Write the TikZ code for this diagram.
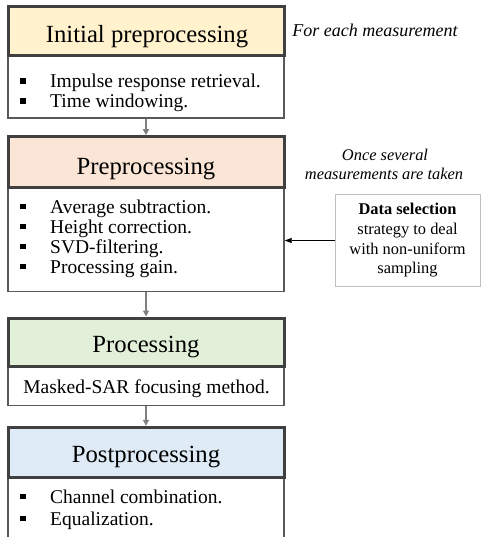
\documentclass[tikz,border=0pt]{standalone}
\usepackage{fontspec}
\setmainfont{Liberation Serif}
\usetikzlibrary{arrows.meta}
\definecolor{hyel}{HTML}{FFF2CC}
\definecolor{hora}{HTML}{FBE5D6}
\definecolor{hgrn}{HTML}{E2F0D9}
\definecolor{hblu}{HTML}{DEEBF7}
\definecolor{hdrline}{HTML}{404040}
\definecolor{bodyline}{HTML}{595959}
\definecolor{arrgray}{HTML}{7F7F7F}
\definecolor{dsline}{HTML}{BFBFBF}
\newcommand{\sqbul}{\makebox[30pt][l]{\rule[4pt]{5.5pt}{5.5pt}}}
\begin{document}
\begin{tikzpicture}[x=1pt,y=-1pt,
  hdr/.style={draw=hdrline, line width=3pt, minimum width=276pt, inner sep=0pt, rectangle},
  bodybox/.style={draw=bodyline, line width=1.4pt, fill=white, minimum width=276pt, inner sep=0pt, rectangle},
  hdrtext/.style={font=\fontsize{24.7}{29}\selectfont, inner sep=0pt, anchor=base},
  li/.style={font=\fontsize{19.5}{20}\selectfont, inner sep=0pt, anchor=base west},
  ctext/.style={font=\fontsize{19.5}{20}\selectfont, inner sep=0pt, anchor=base},
  note/.style={inner sep=0pt, anchor=base},
  databox/.style={draw=dsline, line width=1pt, fill=white, minimum width=145pt, minimum height=91pt, inner sep=0pt, align=center, font=\fontsize{16.4}{19.7}\selectfont},
  garrow/.style={draw=arrgray, line width=1.4pt, -{Triangle[length=6pt,width=6pt]}},
  barrow/.style={draw=black, line width=0.8pt, -{Triangle[length=7pt,width=5pt]}}
]
\clip (0,0) rectangle (481,537);
\fill[white] (0,0) rectangle (481,537);

% bodies
\node[bodybox, minimum height=62pt] (b1) at (146,86.85) {};
\node[bodybox, minimum height=103.8pt] (b2) at (146,239.6) {};
\node[bodybox, minimum height=39.7pt] (b3) at (146,385.85) {};
\node[bodybox, minimum height=90pt] (b4) at (146,522.3) {};

% headers
\node[hdr, fill=hyel, minimum height=49pt] (h1) at (146,31.1) {};
\node[hdr, fill=hora, minimum height=51pt] (h2) at (146,162.2) {};
\node[hdr, fill=hgrn, minimum height=48pt] (h3) at (146,342) {};
\node[hdr, fill=hblu, minimum height=50pt] (h4) at (146,452.3) {};

% header texts
\node[hdrtext] (t1) at (147,43) {Initial preprocessing};
\node[hdrtext] (t2) at (146,175) {Preprocessing};
\node[hdrtext] (t3) at (146,352) {Processing};
\node[hdrtext] (t4) at (146,462) {Postprocessing};

% list texts
\node[li] (l11) at (20,88) {\sqbul Impulse response retrieval.};
\node[li] (l12) at (20,108) {\sqbul Time windowing.};
\node[li] (l21) at (20,213) {\sqbul Average subtraction.};
\node[li] (l22) at (20,233) {\sqbul Height correction.};
\node[li] (l23) at (20,253) {\sqbul SVD-filtering.};
\node[li] (l24) at (20,273) {\sqbul Processing gain.};
\node[ctext] (l31) at (146.5,393) {Masked-SAR focusing method.};
\node[li] (l41) at (20,503) {\sqbul Channel combination.};
\node[li] (l42) at (20,525) {\sqbul Equalization.};

% notes
\node[note, font=\fontsize{18}{21}\selectfont\itshape] (n1) at (375,37) {For each measurement};
\node[note, font=\fontsize{16.4}{18}\selectfont\itshape] (n2a) at (385,161) {Once several};
\node[note, font=\fontsize{16.4}{18}\selectfont\itshape] (n2b) at (384,179) {measurements are taken};

% data selection box
\node[databox] (ds) at (407.5,240.5) {\textbf{Data selection}\\strategy to deal\\with non-uniform\\sampling};

% connectors
\draw[garrow] (b1.south) -- (h2.north);
\draw[garrow] (b2.south) -- (h3.north);
\draw[garrow] (b3.south) -- (h4.north);
\draw[barrow] (ds.west) -- (ds.west -| b2.east);
\end{tikzpicture}
\end{document}
